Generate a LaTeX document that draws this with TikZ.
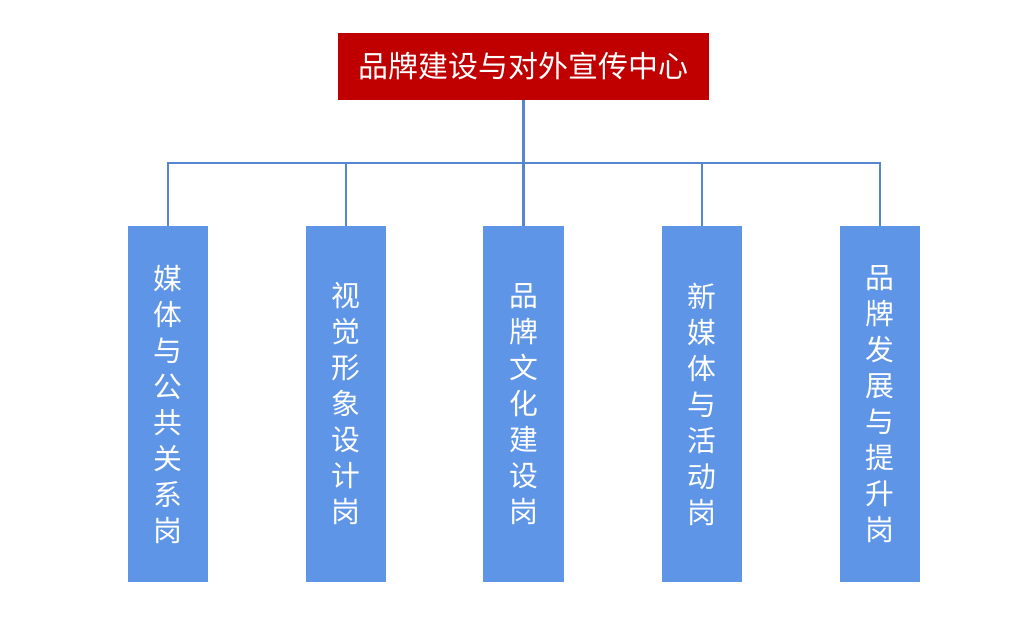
\documentclass[tikz,border=0pt]{standalone}
\usepackage{fontspec}
\newfontfamily\cjk{Noto Sans CJK SC}
\usetikzlibrary{positioning}
\definecolor{brandred}{HTML}{C00000}
\definecolor{postblue}{HTML}{5E95E6}
\tikzset{
    head/.style={fill=brandred, text=white, minimum width=9.275cm, minimum height=1.675cm, inner sep=0pt, font=\cjk\fontsize{21.3}{25}\selectfont}, % top box
    post/.style={fill=postblue, text=white, minimum width=2cm, minimum height=8.9cm, inner sep=0pt, align=center, font=\cjk\fontsize{20.5}{25.6}\selectfont}, % vertical boxes
    link/.style={draw=postblue!90!black, line width=1.7pt}, % connectors
}
\begin{document}
\begin{tikzpicture}[x=0.025cm, y=-0.025cm]
  \useasboundingbox (0,0) rectangle (1024,618);
  \node[head] (top) at (523.5,66.5) {品牌建设与对外宣传中心};
  \coordinate (bus) at (523.5,163);

  \node[post] (p1) at (168,404) {媒\\体\\与\\公\\共\\关\\系\\岗};
  \node[post] (p2) at (346,404) {视\\觉\\形\\象\\设\\计\\岗};
  \node[post] (p3) at (523.5,404) {品\\牌\\文\\化\\建\\设\\岗};
  \node[post] (p4) at (702,404) {新\\媒\\体\\与\\活\\动\\岗};
  \node[post] (p5) at (880,404) {品\\牌\\发\\展\\与\\提\\升\\岗};

  \draw[link] (top) -- (bus);
  \foreach \p in {p1,p2,p3,p4,p5}
    \draw[link] (bus) -| (\p.north);
\end{tikzpicture}
\end{document}
